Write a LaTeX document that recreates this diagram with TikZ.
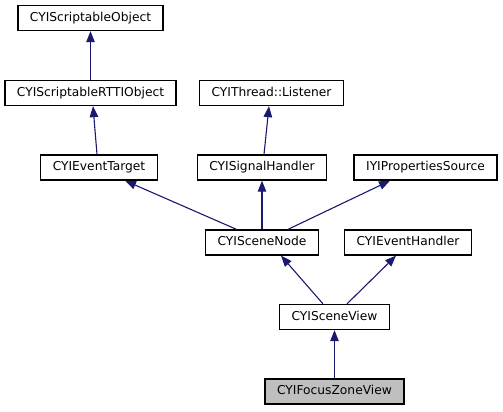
\documentclass[tikz,border=0pt]{standalone}
\usepackage{fontspec}
\setmainfont{DejaVu Sans}
\usepackage{xcolor}
\usetikzlibrary{arrows.meta}
\definecolor{edgeblue}{HTML}{191970}
\definecolor{boxgray}{HTML}{BFBFBF}

\begin{document}
\begin{tikzpicture}[
        x=1bp, y=-1bp,
        classbox/.style={
            draw=black, line width=1.3bp,
            minimum height=25bp, inner xsep=12bp, inner ysep=0pt,
            text height=9bp, text depth=2.5bp,
            font=\fontsize{12.3}{14}\selectfont,
          },
        inherit/.style={
            draw=edgeblue, line width=1.1bp,
            -{Triangle[length=11bp, width=8.5bp]},
          },
        ]
        \useasboundingbox (0, 0) rectangle (503, 411);
        % classes
        \node[classbox] (sobj) at (90.5, 18) {CYIScriptableObject};
        \node[classbox] (rtti) at (90.5, 93) {CYIScriptableRTTIObject};
        \node[classbox] (listener) at (271.5, 93) {CYIThread::Listener};
        \node[classbox] (evtarget) at (99, 167.5) {CYIEventTarget};
        \node[classbox] (signal) at (262, 167.5) {CYISignalHandler};
        \node[classbox] (props) at (425.5, 167.5) {IYIPropertiesSource};
        \node[classbox] (scenenode) at (262, 242.5) {CYISceneNode};
        \node[classbox] (evhandler) at (408, 242.5) {CYIEventHandler};
        \node[classbox] (sceneview) at (334.5, 317) {CYISceneView};
        \node[classbox, fill=boxgray] (focus) at (334.5, 391.5) {CYIFocusZoneView};
        % inheritance
        \draw[inherit] (rtti.north) -- (sobj.south);
        \draw[inherit] ([xshift=-2bp]evtarget.north) -- ([xshift=2.5bp]rtti.south);
        \draw[inherit] ([xshift=2bp]signal.north) -- ([xshift=-2.5bp]listener.south);
        \draw[inherit] ([xshift=-25.5bp]scenenode.north) -- ([xshift=26bp]evtarget.south);
        \draw[inherit] (scenenode.north) -- (signal.south);
        \draw[inherit] ([xshift=26bp]scenenode.north) -- ([xshift=-35.5bp]props.south);
        \draw[inherit] ([xshift=-11.5bp]sceneview.north) -- ([xshift=19bp]scenenode.south);
        \draw[inherit] ([xshift=12.5bp]sceneview.north) -- ([xshift=-12bp]evhandler.south);
        \draw[inherit] (focus.north) -- (sceneview.south);
    \end{tikzpicture}
\end{document}
